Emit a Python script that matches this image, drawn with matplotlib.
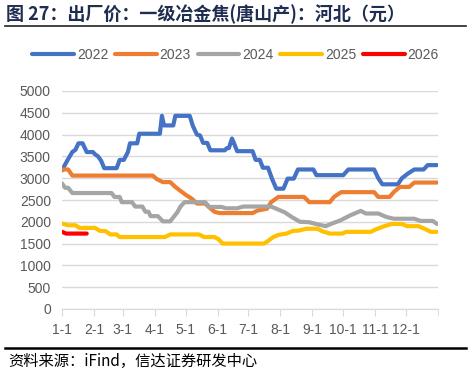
import matplotlib.pyplot as plt
from matplotlib.lines import Line2D

plt.rcParams['font.family'] = ['Liberation Sans', 'Noto Sans CJK SC']

# day of year / price breakpoints
d2022 = [0, 5, 10, 13, 16, 20, 24, 30, 32, 35, 38, 41, 53, 56, 60, 64, 66, 73, 75, 95,
         97, 99, 108, 110, 124, 127, 131, 134, 137, 141, 144, 158, 160, 162, 165, 167,
         170, 185, 188, 192, 195, 200, 204, 208, 215, 219, 225, 229, 244, 247, 273, 278,
         303, 307, 311, 326, 330, 336, 342, 351, 355, 364]
v2022 = [3180, 3400, 3600, 3650, 3800, 3800, 3600, 3600, 3550, 3500, 3400, 3230, 3230,
         3420, 3420, 3600, 3800, 3800, 4020, 4020, 4430, 4210, 4210, 4430, 4430, 4200,
         4000, 3980, 3810, 3810, 3640, 3640, 3690, 3690, 3910, 3800, 3620, 3620, 3420,
         3420, 3240, 3240, 2980, 2760, 2760, 2990, 2990, 3200, 3200, 3070, 3070, 3200,
         3200, 3000, 2860, 2860, 3000, 3110, 3200, 3200, 3300, 3300]

d2023 = [0, 6, 10, 88, 92, 98, 105, 110, 115, 120, 126, 131, 139, 142, 148, 153, 185,
         190, 199, 203, 210, 235, 240, 260, 264, 271, 303, 307, 318, 322, 328, 337, 342, 364]
v2023 = [3200, 3200, 3060, 3060, 2980, 2910, 2910, 2800, 2710, 2620, 2530, 2420, 2420,
         2350, 2230, 2200, 2200, 2260, 2300, 2450, 2570, 2570, 2450, 2450, 2570, 2680,
         2680, 2570, 2570, 2680, 2800, 2800, 2900, 2900]

d2024 = [0, 3, 6, 10, 48, 51, 56, 58, 68, 71, 78, 81, 84, 86, 93, 98, 105, 108, 112, 115,
         119, 139, 143, 155, 159, 170, 176, 203, 208, 216, 223, 231, 240, 248, 256, 262,
         270, 280, 290, 295, 307, 315, 322, 342, 348, 360, 364]
v2024 = [2880, 2780, 2780, 2660, 2660, 2570, 2570, 2450, 2450, 2350, 2350, 2230, 2230,
         2130, 2130, 2010, 2010, 2100, 2220, 2350, 2450, 2450, 2340, 2340, 2310, 2310,
         2350, 2350, 2300, 2220, 2110, 2000, 1990, 1940, 1900, 1960, 2030, 2150, 2250,
         2190, 2190, 2110, 2070, 2070, 2020, 2020, 1950]

d2025 = [0, 6, 13, 17, 32, 37, 42, 47, 53, 56, 100, 105, 133, 138, 148, 152, 156, 196,
         200, 205, 210, 218, 224, 230, 237, 248, 253, 260, 272, 276, 300, 304, 313, 320,
         330, 335, 346, 352, 358, 364]
v2025 = [1960, 1920, 1920, 1860, 1860, 1790, 1790, 1710, 1710, 1650, 1650, 1710, 1710,
         1650, 1650, 1600, 1500, 1500, 1560, 1650, 1700, 1730, 1790, 1800, 1840, 1840,
         1780, 1730, 1730, 1770, 1770, 1820, 1900, 1950, 1950, 1900, 1900, 1840, 1770, 1770]

d2026 = [0, 4, 24]
v2026 = [1770, 1730, 1730]

years = ['2022', '2023', '2024', '2025', '2026']
colors = ['#4472C4', '#ED7D31', '#A5A5A5', '#FFC000', '#FF0000']
month_days = [0, 31, 59, 90, 120, 151, 181, 212, 243, 273, 304, 334]
month_labels = ['1-1', '2-1', '3-1', '4-1', '5-1', '6-1', '7-1', '8-1', '9-1', '10-1', '11-1', '12-1']

fig = plt.figure(figsize=(4.71, 3.73), dpi=100)
ax = fig.add_axes([62/471, 1-309/373, 376/471, 218/373])

series = [(d2022, v2022), (d2023, v2023), (d2024, v2024), (d2025, v2025), (d2026, v2026)]
for (d, v), c, y in zip(series, colors, years):
    ax.plot(d, v, color=c, lw=3, label=y, solid_capstyle='round', solid_joinstyle='round')

ax.set_xlim(0, 365)
ax.set_ylim(0, 5000)
ax.set_yticks(range(0, 5001, 500))
ax.set_xticks(month_days)
ax.set_xticklabels(month_labels)
ax.set_xticks([365], minor=True)
ax.grid(axis='y', color='#D9D9D9', lw=1)
ax.set_axisbelow(True)
for s in ['left', 'right', 'top']:
    ax.spines[s].set_visible(False)
ax.spines['bottom'].set_color('#D9D9D9')
ax.tick_params(axis='y', length=0, labelsize=10, labelcolor='#595959', pad=8)
ax.tick_params(axis='x', which='both', length=5, color='#D9D9D9', direction='out',
               labelsize=10, labelcolor='#595959', pad=5)

handles = [Line2D([], [], color=c, lw=3, solid_capstyle='round') for c in colors]
fig.legend(handles, years, loc='center', bbox_to_anchor=(0.5, 1-55/373), ncol=5,
           frameon=False, fontsize=10, labelcolor='#595959', handlelength=3,
           handletextpad=0.2, columnspacing=0.5)

fig.text(0.012, 1-14/373, '图 27：出厂价：一级冶金焦(唐山产)：河北（元）', fontsize=13,
         fontweight='bold', color='#1F2D50', va='center', ha='left',
         family=['Noto Sans CJK SC', 'DejaVu Sans'])
fig.add_artist(Line2D([5/471, 466/471], [1-26/373, 1-26/373], color='#222222', lw=1.2))
fig.add_artist(Line2D([5/471, 466/471], [1-348/373, 1-348/373], color='black', lw=1.8))
fig.text(0.017, 1-361/373, '资料来源：iFind，信达证券研发中心', fontsize=11, color='black',
         va='center', ha='left', style='italic', family=['Noto Sans CJK SC', 'DejaVu Sans'])

fig.savefig('out.png', dpi=100)
